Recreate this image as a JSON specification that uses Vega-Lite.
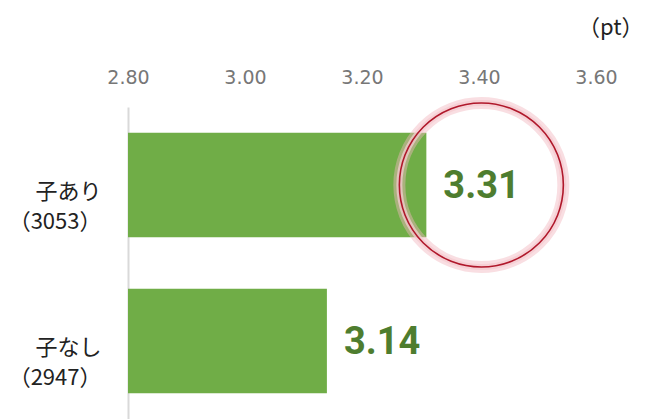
{
  "$schema": "https://vega.github.io/schema/vega-lite/v6.json",
  "width": 468,
  "height": 312,
  "autosize": "none",
  "padding": {"left": 128, "top": 107, "right": 49, "bottom": 0},
  "background": "white",
  "config": {"view": {"stroke": null}},
  "data": {"values": [
    {"group": "子あり\n（3053）", "value": 3.31, "highlight": true},
    {"group": "子なし\n（2947）", "value": 3.14, "highlight": false}
  ]},
  "encoding": {
    "y": {
      "field": "group", "type": "nominal", "sort": null,
      "scale": {"paddingInner": 0.33, "paddingOuter": 0.165},
      "axis": {
        "title": null, "ticks": false, "domain": true, "domainColor": "#d9d9d9", "domainWidth": 2,
        "labelExpr": "split(datum.label, '\\n')",
        "labelFont": "Noto Sans CJK JP", "labelFontSize": 22, "labelColor": "#222222",
        "labelLineHeight": 30, "labelPadding": 27, "labelOffset": 7, "labelAlign": "right"
      }
    },
    "x": {
      "field": "value", "type": "quantitative",
      "scale": {"domain": [2.8, 3.6], "nice": false, "zero": false},
      "axis": {
        "orient": "top", "values": [2.8, 3.0, 3.2, 3.4, 3.6], "format": ".2f",
        "grid": false, "domain": false, "ticks": false, "tickSize": 0,
        "labelFont": "DejaVu Sans", "labelFontSize": 19, "labelColor": "#777777",
        "labelPadding": 20, "labelFlush": false,
        "title": "（pt）", "titleFont": "Noto Sans CJK JP", "titleFontSize": 22,
        "titleFontWeight": "normal", "titleColor": "#222222",
        "titleAnchor": "end", "titleAlign": "right", "titleBaseline": "middle",
        "titleX": 515, "titleY": -80
      }
    }
  },
  "layer": [
    {"mark": {"type": "bar", "color": "#70AD47", "clip": true}},
    {
      "mark": {"type": "text", "align": "left", "baseline": "middle", "dx": 17, "dy": 2,
        "font": "Roboto", "fontSize": 38, "fontWeight": "bold", "color": "#4E7D2F"},
      "encoding": {"text": {"field": "value", "type": "quantitative", "format": ".2f"}}
    },
    {
      "transform": [{"filter": "datum.highlight"}],
      "mark": {"type": "point", "shape": "circle", "filled": false, "size": 26896,
        "xOffset": 55, "stroke": "#F2B8BF", "strokeWidth": 12, "opacity": 0.45},
      "encoding": {}
    },
    {
      "transform": [{"filter": "datum.highlight"}],
      "mark": {"type": "point", "shape": "circle", "filled": false, "size": 26896,
        "xOffset": 55, "stroke": "#F5CCD1", "strokeWidth": 6, "opacity": 0.75},
      "encoding": {}
    },
    {
      "transform": [{"filter": "datum.highlight"}],
      "mark": {"type": "point", "shape": "circle", "filled": false, "size": 26896,
        "xOffset": 55, "stroke": "#B0182B", "strokeWidth": 1.6, "opacity": 1},
      "encoding": {}
    }
  ]
}
